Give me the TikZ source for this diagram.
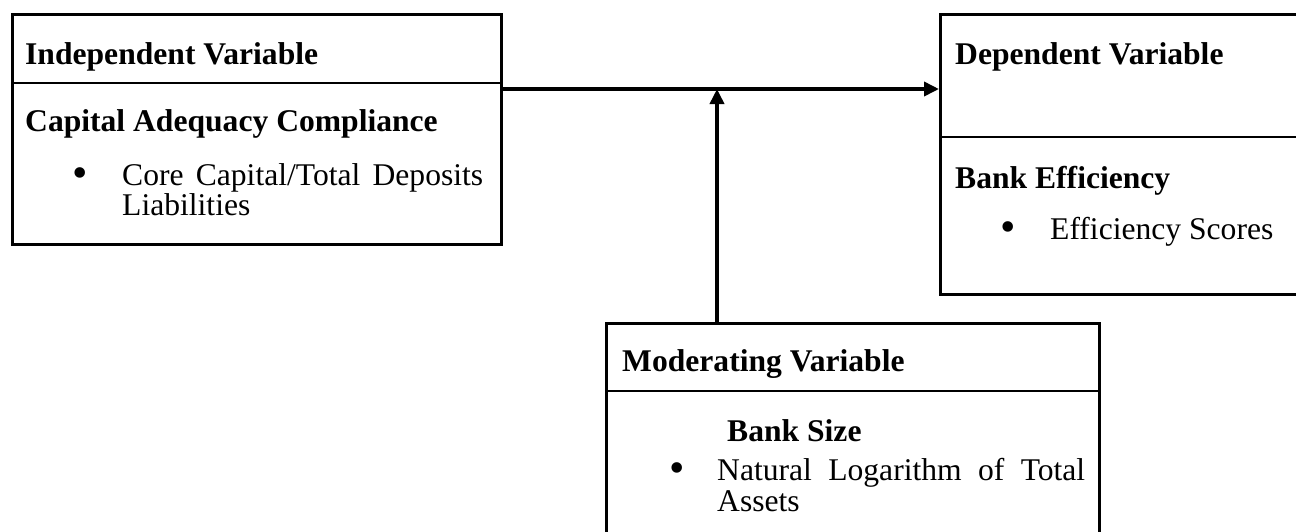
\documentclass[tikz,border=0pt]{standalone}
\usepackage{fontspec}
\setmainfont{Liberation Serif}
\usetikzlibrary{arrows.meta}
\begin{document}
\begin{tikzpicture}[x=1pt,y=-1pt,
  box/.style={draw, line width=2.6pt, rectangle, inner sep=0pt, anchor=north west},
  divider/.style={line width=2.6pt},
  txt/.style={anchor=base west, inner sep=0pt, font=\fontsize{31.6}{28}\selectfont},
  btxt/.style={txt, font=\fontsize{31.6}{28}\selectfont\bfseries},
  bul/.style={anchor=base, inner sep=0pt, font=\fontsize{44}{40}\selectfont},
  conn/.style={line width=3.6pt, -{Triangle[length=15pt,width=14pt]}}]
\useasboundingbox (0,0) rectangle (1296,531);
% boxes
\node[box, minimum width=489pt, minimum height=230pt] (ind) at (11,13) {};
\node[box, minimum width=370pt, minimum height=280pt] (dep) at (939,13) {};
\node[box, minimum width=493pt, minimum height=230pt] (mod) at (605,322) {};
% dividers
\draw[divider] (ind.west |- 0,83) -- (ind.east |- 0,83);
\draw[divider] (dep.west |- 0,137) -- (dep.east |- 0,137);
\draw[divider] (mod.west |- 0,391) -- (mod.east |- 0,391);
% texts: independent
\node[btxt] (t1) at (25,64) {Independent Variable};
\node[btxt] (t2) at (25,131) {Capital Adequacy Compliance};
\node[bul] (b1) at (80,187) {\textbullet};
\node[txt] (t3) at (122,185) {\makebox[361pt][s]{Core Capital/Total Deposits}};
\node[txt] (t4) at (122,215) {Liabilities};
% dependent
\node[btxt] (t5) at (955,64) {Dependent Variable};
\node[btxt] (t6) at (955,188) {Bank Efficiency};
\node[bul] (b2) at (1008,241) {\textbullet};
\node[txt] (t7) at (1050,239) {Efficiency Scores};
% moderating
\node[btxt] (t8) at (622,371) {Moderating Variable};
\node[btxt] (t9) at (727,441) {Bank Size};
\node[bul] (b3) at (677,482) {\textbullet};
\node[txt] (t10) at (717,480) {\makebox[368pt][s]{Natural Logarithm of Total}};
\node[txt] (t11) at (717,511) {Assets};
% connectors
\coordinate (h) at (ind.east |- 0,89);
\coordinate (v) at (717,89);
\draw[conn] (h) -- (h -| dep.west);
\draw[conn] (mod.north -| v) -- (v);
\end{tikzpicture}
\end{document}
